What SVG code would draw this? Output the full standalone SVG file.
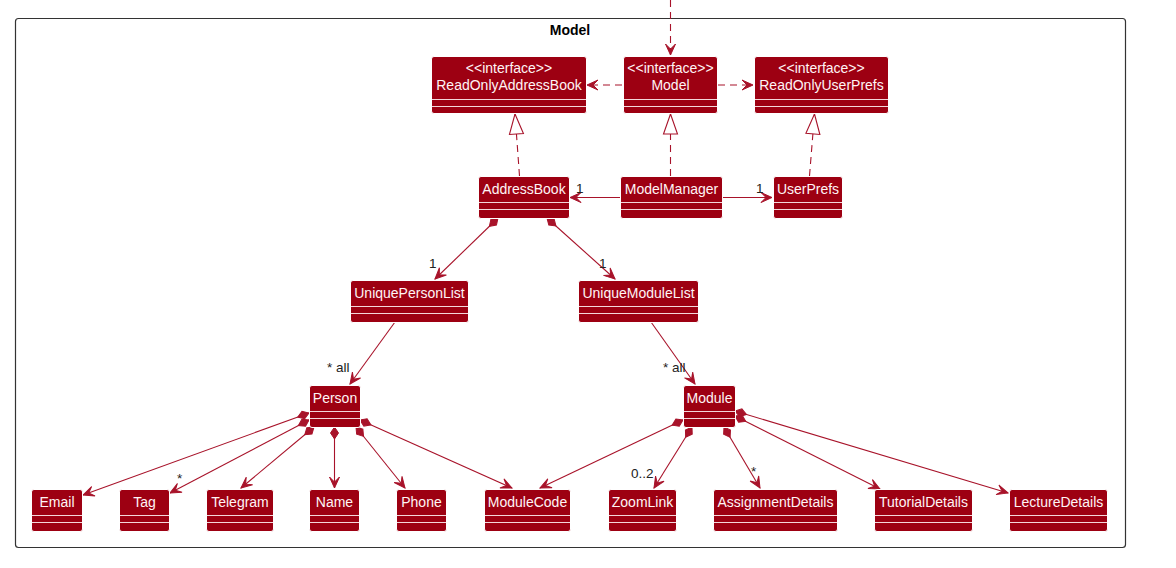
<svg xmlns="http://www.w3.org/2000/svg" width="1176" height="568" viewBox="0 0 1176 568">
<style>
.box{fill:#9D0012;stroke:#FFFFFF;stroke-width:1}
.sep{stroke:#F4D6DA;stroke-width:1}
.nm{font-family:"Liberation Sans",Arial,sans-serif;font-size:14px;fill:#FFF4F5;text-anchor:middle}
.lbl{font-family:"Liberation Sans",Arial,sans-serif;font-size:13.5px;fill:#222222}
.ttl{font-family:"Liberation Sans",Arial,sans-serif;font-size:14px;font-weight:bold;fill:#000000;text-anchor:middle}
.ln{fill:none;stroke:#A8132A;stroke-width:1.1}
.dash{stroke-dasharray:7,5}
.assoc{marker-end:url(#arr)}
.comp{marker-start:url(#dia);marker-end:url(#arr)}
.real{marker-end:url(#tri)}
</style>
<defs>
<marker id="arr" markerUnits="userSpaceOnUse" markerWidth="14" markerHeight="12" refX="0" refY="0" viewBox="-12 -6 14 12" orient="auto" overflow="visible">
<path d="M0,0 L-11,-5 L-6,0 L-11,5 Z" fill="#A8132A" stroke="#A8132A" stroke-width="1"/>
</marker>
<marker id="dia" markerUnits="userSpaceOnUse" markerWidth="16" markerHeight="12" refX="0" refY="0" viewBox="-1 -6 16 12" orient="auto" overflow="visible">
<path d="M0,0 L6,-4 L12,0 L6,4 Z" fill="#A8132A" stroke="#A8132A" stroke-width="1"/>
</marker>
<marker id="tri" markerUnits="userSpaceOnUse" markerWidth="24" markerHeight="18" refX="0" refY="0" viewBox="-22 -9 24 18" orient="auto" overflow="visible">
<path d="M0,0 L-20,-7 L-20,7 Z" fill="#FFFFFF" stroke="#A8132A" stroke-width="1.1"/>
</marker>
</defs>
<rect width="1176" height="568" fill="#FFFFFF"/>
<g id="frame">
<rect x="15.5" y="18.5" width="1110" height="529" rx="3" fill="none" stroke="#333333" stroke-width="1.2"/>
<text class="ttl" x="570" y="35">Model</text>
</g>
<g id="connectors">
<path class="ln dash assoc" d="M670.5,0 L670.5,55"/>
<path class="ln dash assoc" d="M622,85 L587,85"/>
<path class="ln dash assoc" d="M718,85 L753,85"/>
<path class="ln dash real" d="M519.5,176 L515,114"/>
<path class="ln dash real" d="M670.5,176 L670.5,114"/>
<path class="ln dash real" d="M809.5,176 L814.5,114"/>
<path class="ln assoc" d="M620,197.5 L570,197.5"/>
<path class="ln assoc" d="M722,197.5 L772,197.5"/>
<path class="ln comp" d="M498,218 L435,279"/>
<path class="ln comp" d="M547,218 L615,279"/>
<path class="ln assoc" d="M395,322 L350,384"/>
<path class="ln assoc" d="M651,322 L695,384"/>
<path class="ln comp" d="M309,413 L83,495"/>
<path class="ln comp" d="M309,420 L170,493"/>
<path class="ln comp" d="M314,427 L241,488"/>
<path class="ln comp" d="M334.5,427 L334.5,488"/>
<path class="ln comp" d="M356,427 L405,488"/>
<path class="ln comp" d="M360,420 L512,488"/>
<path class="ln comp" d="M683,420 L540,488"/>
<path class="ln comp" d="M692,427 L654,488"/>
<path class="ln comp" d="M724,427 L760,488"/>
<path class="ln comp" d="M735,416 L880,489"/>
<path class="ln comp" d="M735,411 L1008,493"/>
<text class="lbl" x="576" y="193">1</text>
<text class="lbl" x="756" y="193">1</text>
<text class="lbl" x="429" y="268">1</text>
<text class="lbl" x="599" y="268">1</text>
<text class="lbl" x="327" y="372">* all</text>
<text class="lbl" x="663" y="372">* all</text>
<text class="lbl" x="177" y="483">*</text>
<text class="lbl" x="751" y="476">*</text>
<text class="lbl" x="631" y="478">0..2</text>
</g>
<g id="ReadOnlyAddressBook">
<rect class="box" x="431.5" y="56.5" width="155" height="57" rx="2.5"/>
<text class="nm" x="509" y="73">&lt;&lt;interface&gt;&gt;</text>
<text class="nm" x="509" y="90">ReadOnlyAddressBook</text>
<line class="sep" x1="432" y1="99.5" x2="586" y2="99.5"/>
<line class="sep" x1="432" y1="106.5" x2="586" y2="106.5"/>
</g>
<g id="Model">
<rect class="box" x="623.5" y="56.5" width="94" height="57" rx="2.5"/>
<text class="nm" x="670.5" y="73">&lt;&lt;interface&gt;&gt;</text>
<text class="nm" x="670.5" y="90">Model</text>
<line class="sep" x1="624" y1="99.5" x2="717" y2="99.5"/>
<line class="sep" x1="624" y1="106.5" x2="717" y2="106.5"/>
</g>
<g id="ReadOnlyUserPrefs">
<rect class="box" x="754.5" y="56.5" width="134" height="57" rx="2.5"/>
<text class="nm" x="821.5" y="73">&lt;&lt;interface&gt;&gt;</text>
<text class="nm" x="821.5" y="90">ReadOnlyUserPrefs</text>
<line class="sep" x1="755" y1="99.5" x2="888" y2="99.5"/>
<line class="sep" x1="755" y1="106.5" x2="888" y2="106.5"/>
</g>
<g id="AddressBook">
<rect class="box" x="478.5" y="176.5" width="91" height="42" rx="2.5"/>
<text class="nm" x="524" y="193.5">AddressBook</text>
<line class="sep" x1="479" y1="202.5" x2="569" y2="202.5"/>
<line class="sep" x1="479" y1="209.5" x2="569" y2="209.5"/>
</g>
<g id="ModelManager">
<rect class="box" x="620.5" y="176.5" width="102" height="42" rx="2.5"/>
<text class="nm" x="671.5" y="193.5">ModelManager</text>
<line class="sep" x1="621" y1="202.5" x2="722" y2="202.5"/>
<line class="sep" x1="621" y1="209.5" x2="722" y2="209.5"/>
</g>
<g id="UserPrefs">
<rect class="box" x="773.5" y="176.5" width="69" height="42" rx="2.5"/>
<text class="nm" x="808" y="193.5">UserPrefs</text>
<line class="sep" x1="774" y1="202.5" x2="842" y2="202.5"/>
<line class="sep" x1="774" y1="209.5" x2="842" y2="209.5"/>
</g>
<g id="UniquePersonList">
<rect class="box" x="350.5" y="280.5" width="118" height="42" rx="2.5"/>
<text class="nm" x="409.5" y="297.5">UniquePersonList</text>
<line class="sep" x1="351" y1="306.5" x2="468" y2="306.5"/>
<line class="sep" x1="351" y1="313.5" x2="468" y2="313.5"/>
</g>
<g id="UniqueModuleList">
<rect class="box" x="578.5" y="280.5" width="120" height="42" rx="2.5"/>
<text class="nm" x="638.5" y="297.5">UniqueModuleList</text>
<line class="sep" x1="579" y1="306.5" x2="698" y2="306.5"/>
<line class="sep" x1="579" y1="313.5" x2="698" y2="313.5"/>
</g>
<g id="Person">
<rect class="box" x="309.5" y="385.5" width="51" height="42" rx="2.5"/>
<text class="nm" x="335" y="402.5">Person</text>
<line class="sep" x1="310" y1="411.5" x2="360" y2="411.5"/>
<line class="sep" x1="310" y1="418.5" x2="360" y2="418.5"/>
</g>
<g id="Module">
<rect class="box" x="683.5" y="385.5" width="52" height="42" rx="2.5"/>
<text class="nm" x="709.5" y="402.5">Module</text>
<line class="sep" x1="684" y1="411.5" x2="735" y2="411.5"/>
<line class="sep" x1="684" y1="418.5" x2="735" y2="418.5"/>
</g>
<g id="Email">
<rect class="box" x="31.5" y="489.5" width="51" height="42" rx="2.5"/>
<text class="nm" x="57" y="506.5">Email</text>
<line class="sep" x1="32" y1="515.5" x2="82" y2="515.5"/>
<line class="sep" x1="32" y1="522.5" x2="82" y2="522.5"/>
</g>
<g id="Tag">
<rect class="box" x="119.5" y="489.5" width="50" height="42" rx="2.5"/>
<text class="nm" x="144.5" y="506.5">Tag</text>
<line class="sep" x1="120" y1="515.5" x2="169" y2="515.5"/>
<line class="sep" x1="120" y1="522.5" x2="169" y2="522.5"/>
</g>
<g id="Telegram">
<rect class="box" x="206.5" y="489.5" width="67" height="42" rx="2.5"/>
<text class="nm" x="240" y="506.5">Telegram</text>
<line class="sep" x1="207" y1="515.5" x2="273" y2="515.5"/>
<line class="sep" x1="207" y1="522.5" x2="273" y2="522.5"/>
</g>
<g id="Name">
<rect class="box" x="309.5" y="489.5" width="50" height="42" rx="2.5"/>
<text class="nm" x="334.5" y="506.5">Name</text>
<line class="sep" x1="310" y1="515.5" x2="359" y2="515.5"/>
<line class="sep" x1="310" y1="522.5" x2="359" y2="522.5"/>
</g>
<g id="Phone">
<rect class="box" x="396.5" y="489.5" width="50" height="42" rx="2.5"/>
<text class="nm" x="421.5" y="506.5">Phone</text>
<line class="sep" x1="397" y1="515.5" x2="446" y2="515.5"/>
<line class="sep" x1="397" y1="522.5" x2="446" y2="522.5"/>
</g>
<g id="ModuleCode">
<rect class="box" x="484.5" y="489.5" width="86" height="42" rx="2.5"/>
<text class="nm" x="527.5" y="506.5">ModuleCode</text>
<line class="sep" x1="485" y1="515.5" x2="570" y2="515.5"/>
<line class="sep" x1="485" y1="522.5" x2="570" y2="522.5"/>
</g>
<g id="ZoomLink">
<rect class="box" x="608.5" y="489.5" width="68" height="42" rx="2.5"/>
<text class="nm" x="642.5" y="506.5">ZoomLink</text>
<line class="sep" x1="609" y1="515.5" x2="676" y2="515.5"/>
<line class="sep" x1="609" y1="522.5" x2="676" y2="522.5"/>
</g>
<g id="AssignmentDetails">
<rect class="box" x="713.5" y="489.5" width="124" height="42" rx="2.5"/>
<text class="nm" x="775.5" y="506.5">AssignmentDetails</text>
<line class="sep" x1="714" y1="515.5" x2="837" y2="515.5"/>
<line class="sep" x1="714" y1="522.5" x2="837" y2="522.5"/>
</g>
<g id="TutorialDetails">
<rect class="box" x="874.5" y="489.5" width="98" height="42" rx="2.5"/>
<text class="nm" x="923.5" y="506.5">TutorialDetails</text>
<line class="sep" x1="875" y1="515.5" x2="972" y2="515.5"/>
<line class="sep" x1="875" y1="522.5" x2="972" y2="522.5"/>
</g>
<g id="LectureDetails">
<rect class="box" x="1009.5" y="489.5" width="98" height="42" rx="2.5"/>
<text class="nm" x="1058.5" y="506.5">LectureDetails</text>
<line class="sep" x1="1010" y1="515.5" x2="1107" y2="515.5"/>
<line class="sep" x1="1010" y1="522.5" x2="1107" y2="522.5"/>
</g>
</svg>
